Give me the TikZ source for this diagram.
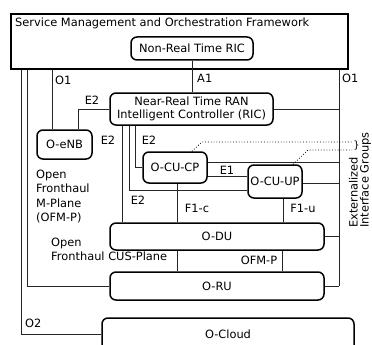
\documentclass[tikz,border=0pt]{standalone}
\usepackage{fontspec}
\setmainfont{DejaVu Sans}
\begin{document}
\begin{tikzpicture}[x=1pt,y=-1pt,
  font=\fontsize{11.4pt}{14.3pt}\selectfont,
  box/.style={draw, line width=1.5pt, rounded corners=6pt, inner sep=0pt},
  link/.style={line width=0.9pt, draw=black!85},
  tag/.style={inner sep=0pt},
  dotlink/.style={line width=0.8pt, dotted}]
\clip (0,0) rectangle (372,345);
\fill[white] (0,0) rectangle (372,345);

% orchestration framework frame
\node[draw, line width=1.8pt, minimum width=337pt, minimum height=55pt, anchor=north west, inner sep=0pt] (smo) at (10,13) {};
\node[tag, anchor=west] (smotitle) at (15,23) {Service Management and Orchestration Framework};
\node[box, minimum width=122pt, minimum height=23pt] (nrt) at (192,48.5) {Non-Real Time RIC};

% network functions
\node[box, minimum width=163pt, minimum height=32pt, align=center] (ric) at (191.5,109) {Near-Real Time RAN\\[-1.5pt]Intelligent Controller (RIC)};
\node[box, minimum width=55pt, minimum height=29pt] (enb) at (64.5,144.5) {O-eNB};
\node[box, minimum width=64pt, minimum height=31pt] (cucp) at (175,167.5) {O-CU-CP};
\node[box, minimum width=54pt, minimum height=33pt] (cuup) at (275,181.5) {O-CU-UP};
\node[box, minimum width=214pt, minimum height=27pt] (du) at (217,236.5) {O-DU};
\node[box, minimum width=214pt, minimum height=28pt] (ru) at (217,286) {O-RU};
\node[box, minimum width=252pt, minimum height=44pt, text depth=0pt] (cloud) at (228,340) {};
\node[tag] (cloudtext) at (228,334) {O-Cloud};

% bus positions
\coordinate (busR) at (339,0);
\coordinate (busO1) at (52,0);
\coordinate (busRU) at (27,0);
\coordinate (busO2) at (21,0);
\coordinate (e2a) at (122,0);
\coordinate (e2b) at (129,0);
\coordinate (e2c) at (135,0);

% A1 and right-hand O1 bus
\draw[link] (nrt.south) -- (ric.north -| nrt.south);
\draw[link] (smo.south -| busR) -- (ru.east -| busR);
\draw[link] (ric.east) -- (ric.east -| busR);
\draw[link] ([yshift=5.5pt]cucp.east) -- ([yshift=5.5pt]cucp.east -| busR);
\draw[link] ([yshift=-1.5pt]cuup.east) -- ([yshift=-1.5pt]cuup.east -| busR);
\draw[link] (du.east) -- (du.east -| busR);
\draw[link] (ru.east) -- (ru.east -| busR);

% left-hand O1 / O2 links
\draw[link] (smo.south -| busO1) -- (enb.north -| busO1);
\draw[link] (smo.south -| busRU) |- (ru.west);
\draw[link] (smo.south -| busO2) |- (cloudtext.center -| cloud.west);

% E2 links
\draw[link] (ric.west) -| ([xshift=13.5pt]enb.north);
\draw[link] (ric.south -| e2a) -- (du.north -| e2a);
\draw[link] (ric.south -| e2b) |- ([yshift=-9pt]cuup.west);
\draw[link] (ric.south -| e2c) |- (cucp.west);

% E1, F1 and fronthaul links
\draw[link] ([yshift=-9pt]cucp.east) -- ([yshift=-9pt]cucp.east -| cuup.west);
\draw[link] ([xshift=2pt]cucp.south) -- ([xshift=2pt]cucp.south |- du.north);
\draw[link] ([xshift=8pt]cuup.south) -- ([xshift=8pt]cuup.south |- du.north);
\draw[link] ([xshift=-40pt]du.south) -- ([xshift=-40pt]du.south |- ru.north);
\draw[link] ([xshift=65pt]du.south) -- ([xshift=65pt]du.south |- ru.north);

% externalized interface groups
\coordinate (grpA) at (352,142);
\coordinate (grpB) at (352,150);
\draw[dotlink] ([xshift=17pt]cucp.north) -- ([xshift=27pt]cucp.north |- grpA) -- (grpA);
\draw[dotlink] ([xshift=18pt]cuup.north) -- ([xshift=33pt]cuup.north |- grpB) -- (grpB);
\node[tag] (brace) at (356.5,146) {\fontsize{10pt}{10pt}\selectfont\}};
\node[tag, rotate=90, anchor=base west] (grplabelA) at (357.5,228) {Externalized};
\node[tag, rotate=90, anchor=base west] (grplabelB) at (368.5,228) {Interface Groups};

% interface labels
\node[tag, anchor=west] (lO1a) at (55,80) {O1};
\node[tag, anchor=west] (lA1) at (197,78) {A1};
\node[tag, anchor=west] (lO1b) at (342,78) {O1};
\node[tag] (lE2a) at (92,100) {E2};
\node[tag] (lE2b) at (108,140) {E2};
\node[tag] (lE2c) at (149,140) {E2};
\node[tag] (lE2d) at (138,200) {E2};
\node[tag] (lE1) at (227,170) {E1};
\node[tag] (lF1c) at (197,208) {F1-c};
\node[tag] (lF1u) at (303,208) {F1-u};
\node[tag] (lOFMP) at (259,260) {OFM-P};
\node[tag, anchor=west] (lO2) at (25,323) {O2};
\node[tag, anchor=north west, align=left] (lMplane) at (36,170) {Open\\Fronthaul\\M-Plane\\(OFM-P)};
\node[tag, anchor=north west, align=left] (lCUS) at (51,238) {Open\\Fronthaul CUS-Plane};
\end{tikzpicture}
\end{document}
